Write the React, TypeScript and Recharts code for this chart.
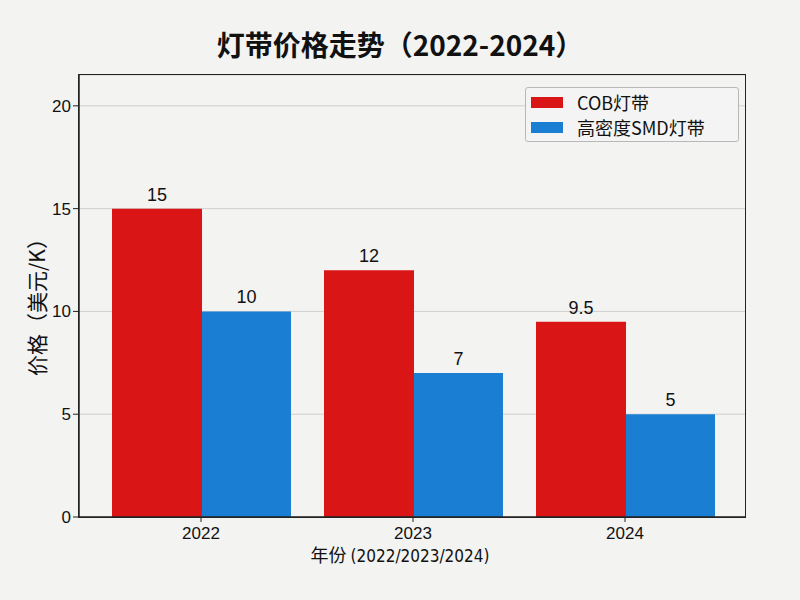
import { BarChart, Bar, XAxis, YAxis, CartesianGrid, LabelList } from "recharts";

const years = ["2022", "2023", "2024"];
const cobPrices = [15, 12, 9.5];
const smdPrices = [10, 7, 5];
const yTicks = [0, 5, 10, 15, 20];

const data = years.map((year, i) => ({ year, cob: cobPrices[i], smd: smdPrices[i] }));

const RED = "#da1515";
const BLUE = "#1a7ed2";
const cjk = "'Noto Sans CJK SC', 'Liberation Sans', sans-serif";
const latin = "'Liberation Sans', Arial, sans-serif";

export default function App() {
  return (
    <div
      style={{
        position: "absolute",
        left: 0,
        top: 0,
        width: 800,
        height: 600,
        background: "#f3f3f2",
        fontFamily: cjk,
      }}
    >
      <div
        style={{
          position: "absolute",
          top: 24,
          left: 0,
          width: 800,
          textAlign: "center",
          fontSize: 28,
          fontWeight: 700,
          color: "#111",
          lineHeight: "40px",
        }}
      >
        灯带价格走势（2022-2024）
      </div>

      <BarChart
        width={800}
        height={600}
        data={data}
        margin={{ top: 75, right: 54, bottom: 0, left: 0 }}
        barGap={0}
      >
        <CartesianGrid vertical={false} stroke="#cfcfcf" strokeWidth={1} />
        <XAxis
          dataKey="year"
          height={83}
          padding={{ left: 16, right: 14 }}
          axisLine={{ stroke: "#222", strokeWidth: 1.5 }}
          tickLine={{ stroke: "#222" }}
          tickSize={5}
          tick={{ fill: "#111", fontSize: 17, fontFamily: latin }}
          tickMargin={5}
        />
        <YAxis
          width={79}
          domain={[0, 21.5]}
          ticks={yTicks}
          allowDataOverflow
          axisLine={{ stroke: "#222", strokeWidth: 1.5 }}
          tickLine={{ stroke: "#222" }}
          tickSize={6}
          tick={{ fill: "#111", fontSize: 17, fontFamily: latin }}
        />
        <YAxis
          yAxisId="right"
          orientation="right"
          width={1}
          domain={[0, 21.5]}
          ticks={yTicks}
          axisLine={false}
          tickLine={{ stroke: "#222", strokeWidth: 1.2 }}
          tickSize={-7}
          tick={() => <g />}
        />
        <Bar dataKey="cob" fill={RED} barSize={90} isAnimationActive={false}>
          <LabelList
            dataKey="cob"
            position="top"
            offset={8}
            style={{ fill: "#111", fontSize: 18, fontFamily: latin }}
          />
        </Bar>
        <Bar dataKey="smd" fill={BLUE} barSize={89} isAnimationActive={false}>
          <LabelList
            dataKey="smd"
            position="top"
            offset={8}
            style={{ fill: "#111", fontSize: 18, fontFamily: latin }}
          />
        </Bar>
      </BarChart>

      {/* frame around the plot area */}
      <div
        style={{
          position: "absolute",
          left: 78,
          top: 74,
          width: 668,
          height: 444,
          border: "1.5px solid #222",
          boxSizing: "border-box",
          pointerEvents: "none",
        }}
      />

      <div
        style={{
          position: "absolute",
          left: 24,
          top: 302,
          transform: "translate(-50%, -50%) rotate(-90deg)",
          transformOrigin: "center",
          marginLeft: 12,
          whiteSpace: "nowrap",
          fontSize: 21,
          color: "#111",
        }}
      >
        价格（美元/K）
      </div>

      <div
        style={{
          position: "absolute",
          top: 541,
          left: 0,
          width: 800,
          textAlign: "center",
          color: "#111",
          whiteSpace: "nowrap",
        }}
      >
        <span style={{ fontSize: 18 }}>年份 </span>
        <span style={{ fontSize: 17, fontFamily: "'Liberation Sans Narrow', 'DejaVu Sans Condensed', sans-serif" }}>
          (2022/2023/2024)
        </span>
      </div>

      <div
        style={{
          position: "absolute",
          left: 525,
          top: 87,
          width: 214,
          height: 55,
          border: "1px solid #b8b8b8",
          borderRadius: 3,
          background: "#f4f4f4",
          boxSizing: "border-box",
        }}
      >
        {[
          { label: "COB灯带", color: RED },
          { label: "高密度SMD灯带", color: BLUE },
        ].map((item, i) => (
          <div
            key={item.label}
            style={{
              position: "absolute",
              left: 5,
              top: 3 + i * 25,
              height: 22,
              lineHeight: "22px",
              display: "flex",
              alignItems: "center",
              whiteSpace: "nowrap",
            }}
          >
            <span style={{ display: "inline-block", width: 32, height: 11, background: item.color }} />
            <span style={{ marginLeft: 14, fontSize: 18, color: "#111" }}>{item.label}</span>
          </div>
        ))}
      </div>
    </div>
  );
}
